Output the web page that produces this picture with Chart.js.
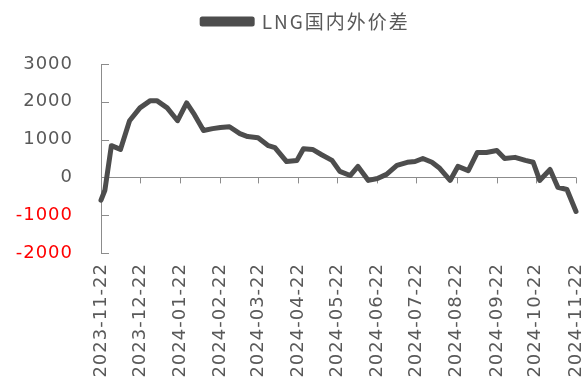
<!DOCTYPE html>
<html lang="zh">
<head>
  <meta charset="UTF-8">
  <title>LNG国内外价差</title>
  <script src="https://cdn.jsdelivr.net/npm/chart.js"></script>
  <style>
    html, body { margin: 0; padding: 0; background: #fff; }
    #wrap { width: 588px; height: 378px; }
  </style>
</head>
<body>
  <div id="wrap"><canvas id="spreadChart"></canvas></div>
  <script>
    // month ticks: days since 2023-11-22
    const monthDays = [0, 30, 61, 92, 121, 152, 182, 213, 243, 274, 305, 335, 366];
    const monthLabels = ['2023-11-22', '2023-12-22', '2024-01-22', '2024-02-22', '2024-03-22', '2024-04-22',
      '2024-05-22', '2024-06-22', '2024-07-22', '2024-08-22', '2024-09-22', '2024-10-22', '2024-11-22'];

    const obsDays = [0, 3, 8, 15, 22, 30, 38, 43, 51, 59, 66, 72, 79, 86, 92, 99, 107, 113, 121, 129,
      134, 143, 151, 156, 163, 170, 178, 184, 192, 198, 206, 213, 220, 228, 236, 242, 248, 255, 261, 269,
      275, 283, 290, 297, 305, 311, 319, 327, 333, 338, 346, 352, 359, 366];
    const spreadValues = [-600, -340, 840, 740, 1500, 1840, 2030, 2030, 1840, 1500, 1970, 1660, 1240, 1290, 1320, 1340, 1160, 1080, 1050, 840,
      790, 420, 450, 760, 740, 600, 450, 160, 50, 290, -80, -30, 80, 320, 400, 420, 500, 400, 240, -80,
      290, 180, 660, 660, 710, 500, 530, 450, 400, -80, 210, -260, -320, -900];

    const axisGray = '#8c8c8c';
    const textGray = '#595959';
    const lineColor = '#4d4d4d';

    // short tick marks: inside on the y axis, downward on the zero line
    const tickMarks = {
      id: 'tickMarks',
      beforeDatasetsDraw(chart) {
        const { ctx, chartArea, scales: { x, y } } = chart;
        const y0 = y.getPixelForValue(0);
        ctx.save();
        ctx.strokeStyle = axisGray;
        ctx.lineWidth = 1;
        ctx.beginPath();
        y.ticks.forEach(t => {
          const py = Math.round(y.getPixelForValue(t.value)) + 0.5;
          ctx.moveTo(chartArea.left, py);
          ctx.lineTo(chartArea.left + 8, py);
        });
        monthDays.forEach(d => {
          const px = Math.round(x.getPixelForValue(d)) + 0.5;
          ctx.moveTo(px, y0);
          ctx.lineTo(px, y0 + 6);
        });
        ctx.stroke();
        ctx.restore();
      }
    };

    // legend sits a bit right of centre with room under it; text is spaced a little wider
    const spacing = {
      id: 'spacing',
      afterInit(chart) {
        const lg = chart.legend;
        if (!lg) return;
        const fit = lg.fit.bind(lg), draw = lg.draw.bind(lg);
        lg.fit = function () {
          this.ctx.save(); this.ctx.letterSpacing = '2px'; fit(); this.ctx.restore();
          this.height += 23;
        };
        lg.draw = function () {
          this.ctx.save(); this.ctx.letterSpacing = '2px'; this.ctx.translate(18, 0); draw(); this.ctx.restore();
        };
      },
      beforeDraw(chart) { chart.ctx.save(); chart.ctx.letterSpacing = '1px'; },
      afterDraw(chart) { chart.ctx.restore(); }
    };

    const ctx = document.getElementById('spreadChart').getContext('2d');
    new Chart(ctx, {
      type: 'line',
      data: {
        datasets: [{
          label: 'LNG国内外价差',
          data: obsDays.map((d, i) => ({ x: d, y: spreadValues[i] })),
          borderColor: lineColor,
          backgroundColor: lineColor,
          borderWidth: 5,
          pointRadius: 0,
          tension: 0,
          borderJoinStyle: 'round',
          borderCapStyle: 'round',
          clip: false
        }]
      },
      options: {
        responsive: true,
        maintainAspectRatio: false,
        animation: false,
        layout: { padding: { top: 6, right: 12, left: 0, bottom: 0 } },
        plugins: {
          legend: {
            display: true,
            position: 'top',
            labels: {
              boxWidth: 50,
              boxHeight: 5,
              padding: 6,
              color: textGray,
              font: { family: '"Noto Sans CJK SC", "DejaVu Sans"', size: 19 }
            }
          },
          tooltip: { enabled: false }
        },
        scales: {
          x: {
            type: 'linear',
            min: 0,
            max: 366,
            afterBuildTicks: s => { s.ticks = monthDays.map(v => ({ value: v })); },
            afterFit: s => { s.height = 125; s.paddingLeft = 0; s.paddingRight = 0; },
            grid: { display: false, drawTicks: false },
            border: { display: false },
            ticks: {
              autoSkip: false,
              minRotation: 90,
              maxRotation: 90,
              padding: 10,
              color: textGray,
              font: { family: '"DejaVu Sans"', size: 18 },
              callback: v => monthLabels[monthDays.indexOf(v)]
            }
          },
          y: {
            min: -2000,
            max: 3000,
            afterFit: s => { s.width = 101; },
            ticks: {
              stepSize: 1000,
              padding: 28,
              color: c => c.tick.value < 0 ? '#ff0000' : textGray,
              font: { family: '"DejaVu Sans"', size: 18 },
              callback: v => String(v)
            },
            grid: {
              drawTicks: false,
              color: c => c.tick && c.tick.value === 0 ? axisGray : 'rgba(0,0,0,0)'
            },
            border: { display: true, color: axisGray }
          }
        }
      },
      plugins: [tickMarks, spacing]
    });
  </script>
</body>
</html>
